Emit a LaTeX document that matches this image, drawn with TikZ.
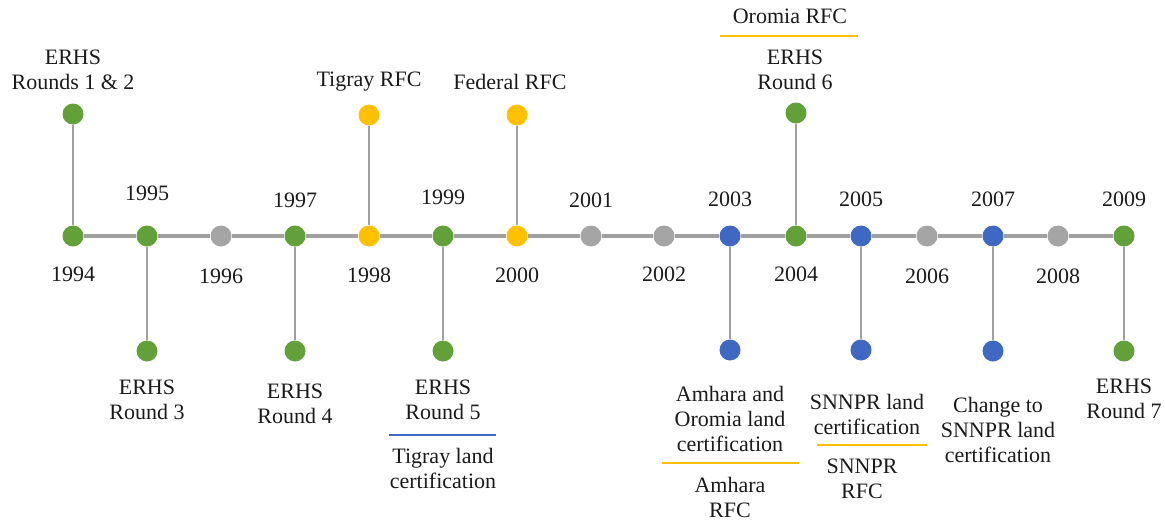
\documentclass[tikz,border=0pt]{standalone}
\usepackage{fontspec}
\setmainfont{Liberation Serif}
\definecolor{cgreen}{HTML}{62A03A}
\definecolor{cyellow}{HTML}{FFC000}
\definecolor{cblue}{HTML}{3F68C2}
\definecolor{cgray}{HTML}{A5A5A5}
\definecolor{cline}{HTML}{A0A0A0}
\definecolor{ctext}{HTML}{1A1A1A}
\begin{document}
\begin{tikzpicture}[x=1pt,y=-1pt,
  dot/.style={circle,minimum size=21pt,inner sep=0pt,fill=#1},
  lbl/.style={align=center,text=ctext,font=\fontsize{22}{25}\selectfont,inner sep=0pt},
  stem/.style={draw=cline,line width=1.4pt},
  axis/.style={draw=cline,line width=4.5pt},
  sep/.style={draw=#1,line width=1.3pt}]
\useasboundingbox (0,0) rectangle (1165,525);
% axis dots
\node[dot=cgreen]  (y1994) at (73,236) {};
\node[dot=cgreen]  (y1995) at (147,236) {};
\node[dot=cgray]   (y1996) at (221,236) {};
\node[dot=cgreen]  (y1997) at (295,236) {};
\node[dot=cyellow] (y1998) at (369,236) {};
\node[dot=cgreen]  (y1999) at (443,236) {};
\node[dot=cyellow] (y2000) at (517,236) {};
\node[dot=cgray]   (y2001) at (591,236) {};
\node[dot=cgray]   (y2002) at (664,236) {};
\node[dot=cblue]   (y2003) at (730,236) {};
\node[dot=cgreen]  (y2004) at (796,236) {};
\node[dot=cblue]   (y2005) at (861,236) {};
\node[dot=cgray]   (y2006) at (927,236) {};
\node[dot=cblue]   (y2007) at (993,236) {};
\node[dot=cgray]   (y2008) at (1058,236) {};
\node[dot=cgreen]  (y2009) at (1124,236) {};
% event dots
\node[dot=cgreen]  (e1994) at (73,114) {};
\node[dot=cyellow] (e1998) at (369,115) {};
\node[dot=cyellow] (e2000) at (517,115) {};
\node[dot=cgreen]  (e2004) at (796,113) {};
\node[dot=cgreen]  (e1995) at (147,351) {};
\node[dot=cgreen]  (e1997) at (295,351) {};
\node[dot=cgreen]  (e1999) at (443,351) {};
\node[dot=cblue]   (e2003) at (730,350) {};
\node[dot=cblue]   (e2005) at (861,350) {};
\node[dot=cblue]   (e2007) at (993,351) {};
\node[dot=cgreen]  (e2009) at (1124,351) {};
% axis
\draw[axis] (y1994) -- (y1995) -- (y1996) -- (y1997) -- (y1998) -- (y1999) -- (y2000) -- (y2001) -- (y2002) -- (y2003) -- (y2004) -- (y2005) -- (y2006) -- (y2007) -- (y2008) -- (y2009);
% stems
\foreach \y in {1994,1998,2000,2004,1995,1997,1999,2003,2005,2007,2009}
  \draw[stem] (y\y) -- (e\y);
% year labels
\node[lbl] (t1995) at (147,193) {1995};
\node[lbl] (t1997) at (295,200) {1997};
\node[lbl] (t1999) at (443,197) {1999};
\node[lbl] (t2001) at (591,200) {2001};
\node[lbl] (t2003) at (730,199) {2003};
\node[lbl] (t2005) at (861,199) {2005};
\node[lbl] (t2007) at (993,199) {2007};
\node[lbl] (t2009) at (1124,199) {2009};
\node[lbl] (t1994) at (73,274) {1994};
\node[lbl] (t1996) at (221,276) {1996};
\node[lbl] (t1998) at (369,275) {1998};
\node[lbl] (t2000) at (517,275) {2000};
\node[lbl] (t2002) at (664,274) {2002};
\node[lbl] (t2004) at (796,274) {2004};
\node[lbl] (t2006) at (927,276) {2006};
\node[lbl] (t2008) at (1058,276) {2008};
% event labels
\node[lbl] (l1994) at (73,70) {ERHS\\Rounds 1 \& 2};
\node[lbl] (l1998) at (369,82) {Tigray RFC};
\node[lbl] (l2000) at (510,82) {Federal RFC};
\node[lbl] (l2004a) at (790,16) {Oromia RFC};
\node[lbl] (l2004) at (795,70) {ERHS\\Round 6};
\node[lbl] (l1995) at (147,400) {ERHS\\Round 3};
\node[lbl] (l1997) at (295,404) {ERHS\\Round 4};
\node[lbl] (l1999) at (443,400) {ERHS\\Round 5};
\node[lbl] (l1999b) at (443,468) {Tigray land\\certification};
\node[lbl] (l2003) at (730,419) {Amhara and\\Oromia land\\certification};
\node[lbl] (l2003b) at (730,497) {Amhara\\RFC};
\node[lbl] (l2005) at (867,414) {SNNPR land\\certification};
\node[lbl] (l2005b) at (862,479) {SNNPR\\RFC};
\node[lbl] (l2007) at (998,430) {Change to\\SNNPR land\\certification};
\node[lbl] (l2009) at (1124,399) {ERHS\\Round 7};
% separators
\draw[sep=cyellow] (720,36) -- (858,36);
\draw[sep=cblue] (389,435) -- (496,435);
\draw[sep=cyellow] (662,463) -- (799,463);
\draw[sep=cyellow] (817,445) -- (927,445);
\end{tikzpicture}
\end{document}
